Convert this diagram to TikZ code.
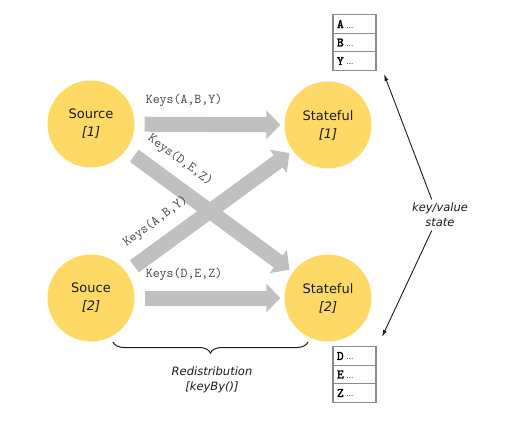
\documentclass[tikz,border=0pt]{standalone}
\usepackage{fontspec}
\setmainfont{DejaVu Sans}
\newfontfamily\celltt[FakeBold=2.5]{Latin Modern Mono}
\usepackage{tikz}
\usetikzlibrary{arrows.meta,positioning,decorations.pathreplacing}
\definecolor{rsyellow}{HTML}{FFD966}
\definecolor{rsgray}{HTML}{C0C0C0}
\definecolor{rsedge}{HTML}{8C8C8C}
\definecolor{rsink}{HTML}{1A1A1A}
\definecolor{rslabel}{HTML}{404040}

\begin{document}
\begin{tikzpicture}[x=1pt,y=-1pt,
  task/.style={circle,fill=rsyellow,minimum size=87pt,inner sep=0pt,align=center,
               text=rsink,font=\fontsize{13}{18}\selectfont},
  flow/.style={-{Triangle[length=14pt,width=28pt]},color=rsgray,line width=15pt,
               shorten <=10pt,shorten >=4pt},
  keys/.style={font=\fontsize{13.5}{14}\ttfamily,text=rslabel,inner sep=1pt},
  cell/.style={draw=rsedge,line width=1.2pt,text width=35pt,minimum height=18.5pt,
               inner sep=4pt,align=left,text=black,font=\fontsize{13}{13}\celltt},
  note/.style={font=\fontsize{11.5}{15}\selectfont\itshape,text=rsink,align=center},
  kvarrow/.style={-{Latex[length=7pt,width=4pt]},color=rsink,line width=0.9pt}
]
\useasboundingbox (0,0) rectangle (527,425);
\node[task] (src1) at (91,124) {Source\\{\itshape[1]}};
\node[task] (src2) at (91,298) {Souce\\{\itshape[2]}};
\node[task] (sf1) at (328,125) {Stateful\\{\itshape[1]}};
\node[task] (sf2) at (328,298) {Stateful\\{\itshape[2]}};
\draw[flow] (src1) -- (sf1)
  node[keys,pos=0.33,above=9pt] {Keys(A,B,Y)};
\draw[flow] (src2) -- (sf2)
  node[keys,pos=0.33,above=9pt] {Keys(D,E,Z)};
\draw[flow] (src1) -- (sf2)
  node[keys,pos=0.24,sloped,above=9pt] {Keys(D,E,Z)};
\draw[flow] (src2) -- (sf1)
  node[keys,pos=0.26,sloped,above=9pt] {Keys(A,B,Y)};
\foreach \k/\y in {A/24,B/42.5,Y/61,D/356,E/374.5,Z/393}
  \node[cell] (row\k) at (354.5,\y)
    {\k\hspace{3pt}{\normalfont\fontsize{7}{8}\selectfont...}};
\node[note] (kv) at (440,215) {key/value\\state};
\coordinate (kvup) at (384,74);
\coordinate (kvdown) at (382,337);
\draw[kvarrow] (kv.118) -- (kvup);
\draw[kvarrow] (kv.-118) -- (kvdown);
\coordinate (brl) at (113,342);
\coordinate (brr) at (308,342);
\draw[rsink,line width=1pt,decorate,decoration={brace,mirror,amplitude=11pt}]
  (brl) -- (brr);
\node[note] (redist) at (212,380) {Redistribution\\{[keyBy()]}};
\end{tikzpicture}
\end{document}
